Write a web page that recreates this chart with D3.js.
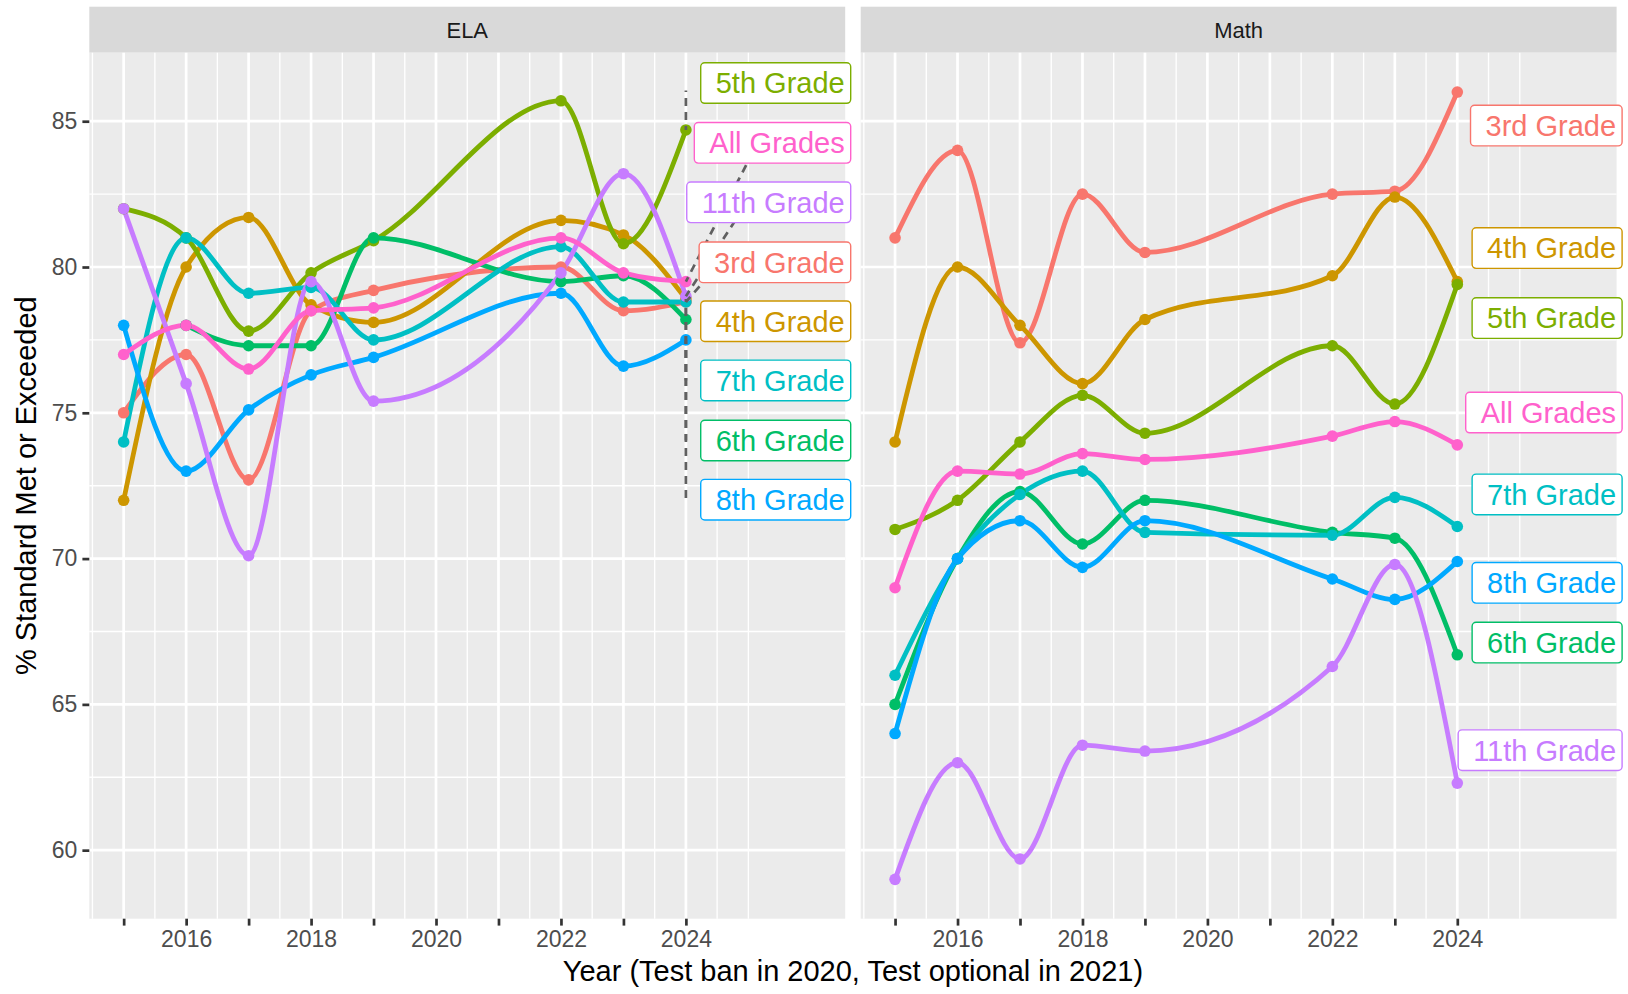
<!DOCTYPE html>
<html>
<head>
<meta charset="utf-8">
<script src="https://cdnjs.cloudflare.com/ajax/libs/d3/7.8.5/d3.min.js"></script>
<style>
  body { margin: 0; background: #fff; }
  text { font-family: "Liberation Sans", Arial, Helvetica, sans-serif; }
</style>
</head>
<body>
<svg id="chart" width="1628" height="994"></svg>
<script>
/**
 * % Standard Met or Exceeded, ELA vs Math, by grade
 */

var years = [2015, 2016, 2017, 2018, 2019, 2022, 2023, 2024];
var grades = ['3rd Grade', '4th Grade', '5th Grade', '6th Grade', '7th Grade', '8th Grade', '11th Grade', 'All Grades'];
var gradeColors = ['#F8766D', '#CD9600', '#7CAE00', '#00BE67', '#00BFC4', '#00A9FF', '#C77CFF', '#FF61CC'];

// one row per grade, same order as grades (null = no result)
var elaScores = [
  [75, 77, 72.7, 78.5, 79.2, 80.0, 78.5, 78.8],
  [72, 80, 81.7, 78.7, 78.1, 81.6, 81.1, 78.9],
  [82, 81, 77.8, 79.8, 80.9, 85.7, 80.8, 84.7],
  [null, 78, 77.3, 77.3, 81.0, 79.5, 79.7, 78.2],
  [74, 81, 79.1, 79.3, 77.5, 80.7, 78.8, 78.8],
  [78, 73, 75.1, 76.3, 76.9, 79.1, 76.6, 77.5],
  [82, 76, 70.1, 79.5, 75.4, 79.8, 83.2, 79.0],
  [77, 78, 76.5, 78.5, 78.6, 81.0, 79.8, 79.5]
];
var mathScores = [
  [81, 84, 77.4, 82.5, 80.5, 82.5, 82.6, 86.0],
  [74, 80, 78.0, 76.0, 78.2, 79.7, 82.4, 79.5],
  [71, 72, 74.0, 75.6, 74.3, 77.3, 75.3, 79.4],
  [65, 70, 72.3, 70.5, 72.0, 70.9, 70.7, 66.7],
  [66, 70, 72.2, 73.0, 70.9, 70.8, 72.1, 71.1],
  [64, 70, 71.3, 69.7, 71.3, 69.3, 68.6, 69.9],
  [59, 63, 59.7, 63.6, 63.4, 66.3, 69.8, 62.3],
  [69, 73, 72.9, 73.6, 73.4, 74.2, 74.7, 73.9]
];

// where the repelled labels ended up (score units), same order as grades
var elaLabelY = [80.16, 78.14, 86.31, 74.05, 76.11, 72.02, 82.22, 84.26];
var mathLabelY = [84.85, 80.65, 78.25, 67.12, 72.2, 69.17, 63.43, 75.01];
// far end of the dashed ELA leader lines [year, score]
var elaLeaderEnd = [[2024.55, 80.16], [2024, 78.14], [2024, 86.05], [2024, 74.05],
                    [2024, 76.11], [2024, 72.02], [2024.98, 82.22], [2025.15, 84.26]];

var xTicks = d3.range(2015, 2025);
var yTicks = [60, 65, 70, 75, 80, 85];

var svg = d3.select('#chart');
var panelTop = 52.7, panelBottom = 918.7;
var panels = [
  {name: 'ELA', left: 89.3, right: 845.2, scores: elaScores, labelY: elaLabelY, leader: elaLeaderEnd},
  {name: 'Math', left: 860.7, right: 1616.6, scores: mathScores, labelY: mathLabelY, leader: null}
];

var y = d3.scaleLinear().domain([57.65, 87.35]).range([panelBottom, panelTop]);
var majorW = 2.7, minorW = 1.35;
var dash = 14; // dash period for leaders

panels.forEach(function(p, pi) {
  var x = d3.scaleLinear().domain([2014.45, 2026.55]).range([p.left, p.right]);
  var g = svg.append('g');

  // strip
  g.append('rect')
      .attr('x', p.left).attr('y', 6.7)
      .attr('width', p.right - p.left).attr('height', panelTop - 6.7)
      .attr('fill', '#D9D9D9');
  g.append('text')
      .attr('x', (p.left + p.right) / 2).attr('y', 37.5)
      .attr('text-anchor', 'middle')
      .attr('font-size', 22).attr('fill', '#1A1A1A')
      .text(p.name);

  // panel + grid
  g.append('rect')
      .attr('x', p.left).attr('y', panelTop)
      .attr('width', p.right - p.left).attr('height', panelBottom - panelTop)
      .attr('fill', '#EBEBEB');

  var xMinor = d3.range(2014.5, 2025, 1).concat([2025]);
  var yMinor = [62.5, 67.5, 72.5, 77.5, 82.5];
  g.selectAll('line.xminor').data(xMinor).enter().append('line')
      .attr('x1', function(d) { return x(d); }).attr('x2', function(d) { return x(d); })
      .attr('y1', panelTop).attr('y2', panelBottom)
      .attr('stroke', '#fff').attr('stroke-width', minorW);
  g.selectAll('line.yminor').data(yMinor).enter().append('line')
      .attr('x1', p.left).attr('x2', p.right)
      .attr('y1', function(d) { return y(d); }).attr('y2', function(d) { return y(d); })
      .attr('stroke', '#fff').attr('stroke-width', minorW);
  g.selectAll('line.ymajor').data(yTicks).enter().append('line')
      .attr('x1', p.left).attr('x2', p.right)
      .attr('y1', function(d) { return y(d); }).attr('y2', function(d) { return y(d); })
      .attr('stroke', '#fff').attr('stroke-width', majorW);
  g.selectAll('line.xmajor').data(xTicks).enter().append('line')
      .attr('x1', function(d) { return x(d); }).attr('x2', function(d) { return x(d); })
      .attr('y1', panelTop).attr('y2', panelBottom)
      .attr('stroke', '#fff').attr('stroke-width', majorW);

  // x axis: tick every year, label even years only
  var xAxis = d3.axisBottom(x).tickValues(xTicks).tickSizeOuter(0).tickSize(6.9)
      .tickPadding(5)
      .tickFormat(function(d) { return d % 2 === 0 ? d : ''; });
  var ax = g.append('g').attr('transform', 'translate(0,' + panelBottom + ')').call(xAxis);
  ax.select('.domain').remove();
  ax.selectAll('line').attr('stroke', '#333').attr('stroke-width', majorW);
  ax.selectAll('text').attr('font-size', 23).attr('fill', '#4D4D4D')
      .attr('font-family', '"Liberation Sans", Arial, sans-serif');

  if (pi === 0) {
    var yAxis = d3.axisLeft(y).tickValues(yTicks).tickSizeOuter(0).tickSize(6.9).tickPadding(5);
    var ay = g.append('g').attr('transform', 'translate(' + p.left + ',0)').call(yAxis);
    ay.select('.domain').remove();
    ay.selectAll('line').attr('stroke', '#333').attr('stroke-width', majorW);
    ay.selectAll('text').attr('font-size', 23).attr('fill', '#4D4D4D')
        .attr('font-family', '"Liberation Sans", Arial, sans-serif');
  }

  // series
  var series = grades.map(function(gr, i) {
    return {
      grade: gr, color: gradeColors[i], labelY: p.labelY[i],
      leader: p.leader ? p.leader[i] : null,
      pts: years.map(function(yr, j) { return {year: yr, v: p.scores[i][j]}; })
    };
  });

  var line = d3.line()
      .x(function(d) { return x(d.year); })
      .y(function(d) { return y(d.v); })
      .curve(d3.curveMonotoneX);

  g.selectAll('path.series').data(series).enter().append('path')
      .attr('d', function(d) { return line(d.pts.filter(function(e) { return e.v != null; })); })
      .attr('fill', 'none')
      .attr('stroke', function(d) { return d.color; })
      .attr('stroke-width', 4.8)
      .attr('stroke-linejoin', 'round');

  series.forEach(function(s) {
    g.selectAll(null).data(s.pts.filter(function(d) { return d.v != null; })).enter()
      .append('circle')
        .attr('cx', function(d) { return x(d.year); })
        .attr('cy', function(d) { return y(d.v); })
        .attr('r', 5.8)
        .attr('fill', s.color);
  });

  // dashed leader lines (ELA only), drawn top-down so the dashes line up
  if (p.leader) {
    series.forEach(function(s) {
      var y0 = y(s.pts[s.pts.length - 1].v), y1 = y(s.leader[1]);
      var x0 = x(2024), x1 = x(s.leader[0]);
      var top = y0 < y1 ? [x0, y0] : [x1, y1];
      var bot = y0 < y1 ? [x1, y1] : [x0, y0];
      g.append('line')
          .attr('x1', top[0]).attr('y1', top[1])
          .attr('x2', bot[0]).attr('y2', bot[1])
          .attr('stroke', '#606060').attr('stroke-width', 2.7)
          .attr('stroke-dasharray', '8,6')
          .attr('stroke-dashoffset', (top[1] % dash));
    });
  }

  // labels, right edge slightly past the panel
  var boxRight = p.right + 5.5;
  series.forEach(function(s) {
    var cy = y(s.labelY);
    var lab = g.append('g');
    var rect = lab.append('rect');
    var t = lab.append('text')
        .attr('x', boxRight - 6).attr('y', cy + 10.4)
        .attr('text-anchor', 'end')
        .attr('font-size', 29).attr('fill', s.color)
        .text(s.grade);
    var w = t.node().getComputedTextLength();
    rect.attr('x', boxRight - 6 - w - 15).attr('y', cy - 20.3)
        .attr('width', w + 21).attr('height', 40.6)
        .attr('rx', 4).attr('ry', 4)
        .attr('fill', '#fff').attr('stroke', s.color).attr('stroke-width', 1.4);
  });
});

// axis titles
svg.append('text')
    .attr('x', (panels[0].left + panels[1].right) / 2).attr('y', 981)
    .attr('text-anchor', 'middle')
    .attr('font-size', 29).attr('fill', '#000')
    .text('Year (Test ban in 2020, Test optional in 2021)');
svg.append('text')
    .attr('transform', 'translate(36,' + (panelTop + panelBottom) / 2 + ') rotate(-90)')
    .attr('text-anchor', 'middle')
    .attr('font-size', 29).attr('fill', '#000')
    .text('% Standard Met or Exceeded');
</script>
</body>
</html>
